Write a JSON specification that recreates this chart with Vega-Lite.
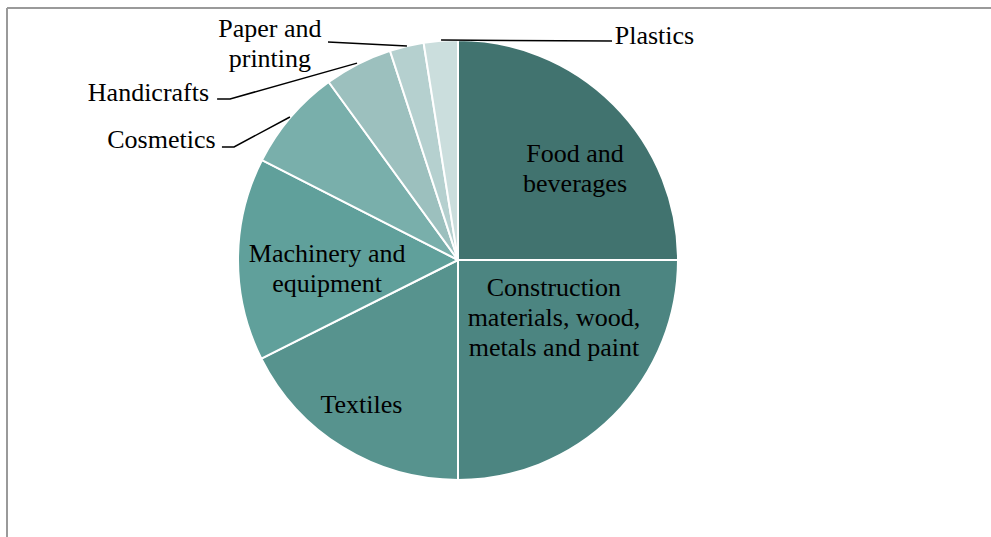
{
  "$schema": "https://vega.github.io/schema/vega-lite/v6.json",
  "width": 984,
  "height": 529,
  "padding": {"left": 7, "top": 8, "right": 0, "bottom": 0},
  "autosize": {"type": "none"},
  "background": "white",
  "config": {"view": {"stroke": null}},
  "datasets": {
    "slices": [
      {"category": "Food and beverages", "share": 25, "rank": 1},
      {"category": "Construction materials, wood, metals and paint", "share": 25, "rank": 2},
      {"category": "Textiles", "share": 17.6, "rank": 3},
      {"category": "Machinery and equipment", "share": 14.9, "rank": 4},
      {"category": "Cosmetics", "share": 7.5, "rank": 5},
      {"category": "Handicrafts", "share": 5, "rank": 6},
      {"category": "Paper and printing", "share": 2.5, "rank": 7},
      {"category": "Plastics", "share": 2.5, "rank": 8}
    ],
    "labels": [
      {"label": "Food and\nbeverages", "u": 53.2, "v": 44.5},
      {"label": "Construction\nmaterials, wood,\nmetals and paint", "u": 43.6, "v": -16.4},
      {"label": "Textiles", "u": -43.9, "v": -69.5},
      {"label": "Machinery and\nequipment", "u": -59.5, "v": -0.9},
      {"label": "Cosmetics", "u": -134.8, "v": 50.9},
      {"label": "Handicrafts", "u": -140.7, "v": 72.3},
      {"label": "Paper and\nprinting", "u": -85.5, "v": 101.4},
      {"label": "Plastics", "u": 89.3, "v": 98.2}
    ],
    "leaders": [
      {"label": "Plastics", "seq": 1, "u": 70.0, "v": 99.5},
      {"label": "Plastics", "seq": 2, "u": -7.7, "v": 100.0},
      {"label": "Paper and printing", "seq": 1, "u": -59.1, "v": 99.1},
      {"label": "Paper and printing", "seq": 2, "u": -23.2, "v": 97.3},
      {"label": "Handicrafts", "seq": 1, "u": -109.5, "v": 73.2},
      {"label": "Handicrafts", "seq": 2, "u": -103.6, "v": 73.2},
      {"label": "Handicrafts", "seq": 3, "u": -45.9, "v": 89.5},
      {"label": "Cosmetics", "seq": 1, "u": -107.3, "v": 51.4},
      {"label": "Cosmetics", "seq": 2, "u": -101.8, "v": 51.4},
      {"label": "Cosmetics", "seq": 3, "u": -76.4, "v": 65.0}
    ]
  },
  "layer": [
    {
      "data": {"values": [{}]},
      "mark": {"type": "rule", "color": "#9a9a9a", "strokeWidth": 2},
      "encoding": {
        "y": {"datum": 114.55, "type": "quantitative", "scale": {"domain": [-125.91, 114.55], "nice": false, "zero": false}, "axis": null}
      }
    },
    {
      "data": {"values": [{}]},
      "mark": {"type": "rule", "color": "#9a9a9a", "strokeWidth": 2},
      "encoding": {
        "x": {"datum": -205, "type": "quantitative", "scale": {"domain": [-205, 242.27], "nice": false, "zero": false}, "axis": null}
      }
    },
    {
      "data": {"name": "slices"},
      "mark": {"type": "arc", "outerRadius": 220, "stroke": "white", "strokeWidth": 2},
      "encoding": {
        "x": {"datum": 0, "type": "quantitative", "axis": null},
        "y": {"datum": 0, "type": "quantitative", "axis": null},
        "theta": {"field": "share", "type": "quantitative", "stack": true},
        "order": {"field": "rank", "type": "quantitative"},
        "color": {
          "field": "category",
          "type": "nominal",
          "legend": null,
          "scale": {
            "domain": ["Food and beverages", "Construction materials, wood, metals and paint", "Textiles", "Machinery and equipment", "Cosmetics", "Handicrafts", "Paper and printing", "Plastics"],
            "range": ["#41736F", "#4C8581", "#57938E", "#60A09B", "#79AFAB", "#9CC0BE", "#B5D0CF", "#CBDEDD"]
          }
        }
      }
    },
    {
      "data": {"name": "leaders"},
      "mark": {"type": "line", "color": "black", "strokeWidth": 1.5},
      "encoding": {
        "x": {"field": "u", "type": "quantitative", "axis": null},
        "y": {"field": "v", "type": "quantitative", "axis": null},
        "detail": {"field": "label"},
        "order": {"field": "seq", "type": "quantitative"}
      }
    },
    {
      "data": {"name": "labels"},
      "mark": {"type": "text", "font": "Liberation Serif", "fontSize": 26, "lineHeight": 30, "lineBreak": "\n", "align": "center", "baseline": "alphabetic", "color": "black"},
      "encoding": {
        "x": {"field": "u", "type": "quantitative", "axis": null},
        "y": {"field": "v", "type": "quantitative", "axis": null},
        "text": {"field": "label"}
      }
    }
  ]
}
